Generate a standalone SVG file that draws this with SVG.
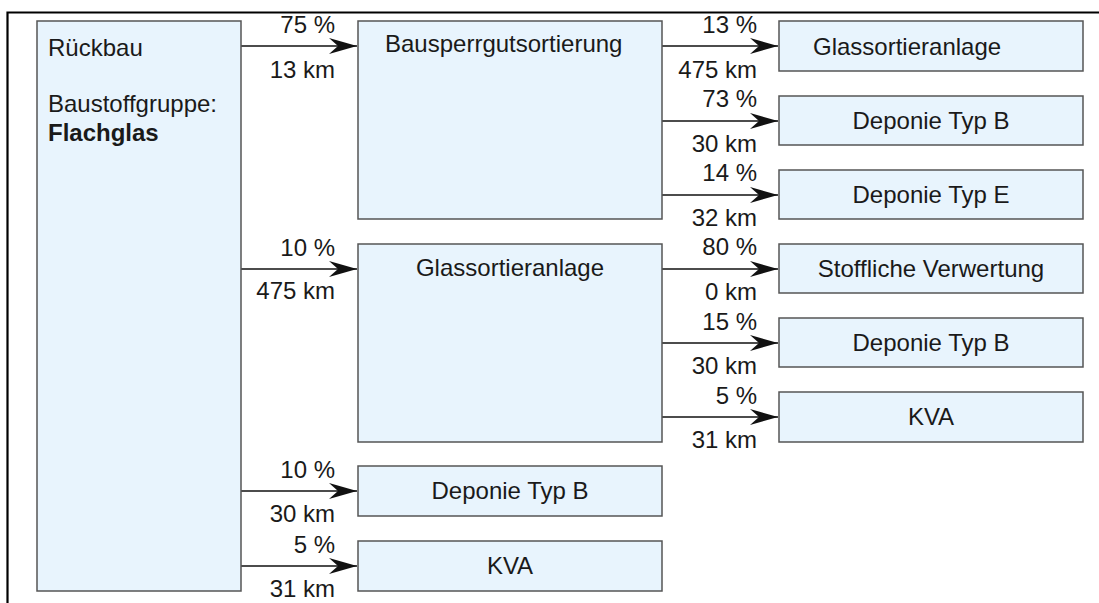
<svg xmlns="http://www.w3.org/2000/svg" width="1099" height="603" viewBox="0 0 1099 603">
<style>
.box{fill:#e8f4fd;stroke:#555;stroke-width:1.5}
text{font-family:"Liberation Sans",Arial,sans-serif;font-size:24px;fill:#1a1a1a}
.c{text-anchor:middle}
.r{text-anchor:end}
.b{font-weight:bold}
.ln{stroke:#111;stroke-width:1.6;fill:none}
.frame{stroke:#000;stroke-width:2.2;fill:none}
</style>
<defs>
<marker id="ah" markerUnits="userSpaceOnUse" markerWidth="30" markerHeight="18" viewBox="-28 -9 30 18" refX="0" refY="0" orient="auto">
<path d="M0,0 L-28,-8 L-19,0 L-28,8 Z" fill="#111"/>
</marker>
</defs>
<path class="frame" d="M7.5,603 V12.5 H1099"/>
<g id="connectors">
<line class="ln" x1="241" y1="46" x2="357" y2="46" marker-end="url(#ah)"/>
<line class="ln" x1="241" y1="269" x2="357" y2="269" marker-end="url(#ah)"/>
<line class="ln" x1="241" y1="491" x2="357" y2="491" marker-end="url(#ah)"/>
<line class="ln" x1="241" y1="566" x2="357" y2="566" marker-end="url(#ah)"/>
<line class="ln" x1="662" y1="46" x2="778" y2="46" marker-end="url(#ah)"/>
<line class="ln" x1="662" y1="121" x2="778" y2="121" marker-end="url(#ah)"/>
<line class="ln" x1="662" y1="195" x2="778" y2="195" marker-end="url(#ah)"/>
<line class="ln" x1="662" y1="269" x2="778" y2="269" marker-end="url(#ah)"/>
<line class="ln" x1="662" y1="343" x2="778" y2="343" marker-end="url(#ah)"/>
<line class="ln" x1="662" y1="417" x2="778" y2="417" marker-end="url(#ah)"/>
<text class="r" x="335" y="33">75 %</text>
<text class="r" x="335" y="78">13 km</text>
<text class="r" x="335" y="256">10 %</text>
<text class="r" x="335" y="299">475 km</text>
<text class="r" x="335" y="478">10 %</text>
<text class="r" x="335" y="522">30 km</text>
<text class="r" x="335" y="553">5 %</text>
<text class="r" x="335" y="597">31 km</text>
<text class="r" x="757" y="33">13 %</text>
<text class="r" x="757" y="78">475 km</text>
<text class="r" x="757" y="107">73 %</text>
<text class="r" x="757" y="152">30 km</text>
<text class="r" x="757" y="181">14 %</text>
<text class="r" x="757" y="226">32 km</text>
<text class="r" x="757" y="255">80 %</text>
<text class="r" x="757" y="300">0 km</text>
<text class="r" x="757" y="330">15 %</text>
<text class="r" x="757" y="374">30 km</text>
<text class="r" x="757" y="404">5 %</text>
<text class="r" x="757" y="448">31 km</text>
</g>
<g id="rueckbau">
<rect class="box" x="37" y="21" width="204" height="570"/>
<text x="48" y="56">Rückbau</text>
<text x="48" y="112">Baustoffgruppe:</text>
<text class="b" x="48" y="141">Flachglas</text>
</g>
<g id="bausperrgut">
<rect class="box" x="358" y="21" width="304" height="198"/>
<text x="385" y="52">Bausperrgutsortierung</text>
</g>
<g id="glassortier-mid">
<rect class="box" x="358" y="244" width="304" height="198"/>
<text class="c" x="510" y="276">Glassortieranlage</text>
</g>
<g id="deponie-b-bottom">
<rect class="box" x="358" y="466" width="304" height="50"/>
<text class="c" x="510" y="499">Deponie Typ B</text>
</g>
<g id="kva-bottom">
<rect class="box" x="358" y="541" width="304" height="50"/>
<text class="c" x="510" y="574">KVA</text>
</g>
<g id="glassortier-right">
<rect class="box" x="779" y="21" width="304" height="50"/>
<text x="813" y="55">Glassortieranlage</text>
</g>
<g id="deponie-b-1">
<rect class="box" x="779" y="96" width="304" height="49"/>
<text class="c" x="931" y="129">Deponie Typ B</text>
</g>
<g id="deponie-e">
<rect class="box" x="779" y="170" width="304" height="49"/>
<text class="c" x="931" y="203">Deponie Typ E</text>
</g>
<g id="stoffliche">
<rect class="box" x="779" y="244" width="304" height="49"/>
<text class="c" x="931" y="277">Stoffliche Verwertung</text>
</g>
<g id="deponie-b-2">
<rect class="box" x="779" y="318" width="304" height="49"/>
<text class="c" x="931" y="351">Deponie Typ B</text>
</g>
<g id="kva-right">
<rect class="box" x="779" y="392" width="304" height="50"/>
<text class="c" x="931" y="425">KVA</text>
</g>
</svg>
